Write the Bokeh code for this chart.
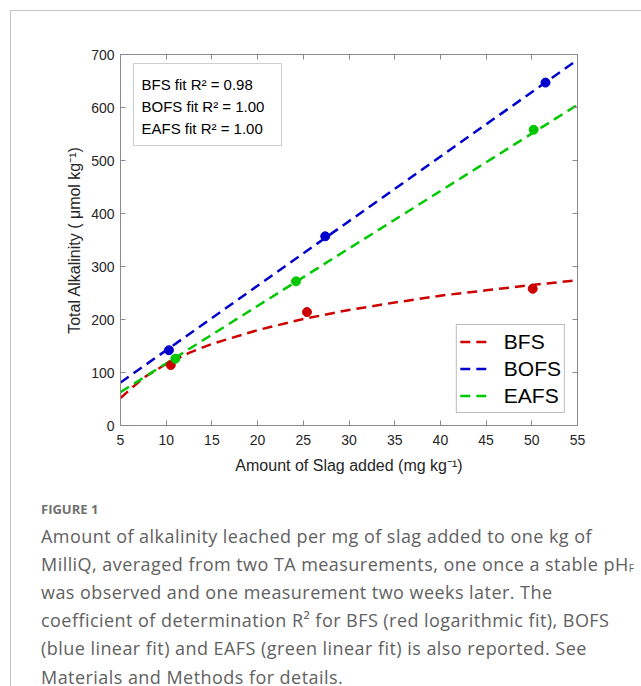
from bokeh.plotting import figure
from bokeh.models import (Range1d, LinearAxis, BoxAnnotation, Label, Legend,
                          LegendItem, FixedTicker, Div)
from bokeh.layouts import column
from bokeh.embed import file_html
from bokeh.resources import INLINE

# ---------------- data ----------------
bfs_x = [10.5, 25.4, 50.1]
bfs_y = [114, 214, 258]
bofs_x = [10.3, 27.4, 51.5]
bofs_y = [142, 357, 647]
eafs_x = [11.0, 24.2, 50.2]
eafs_y = [126, 272, 558]

# fitted curves as drawn (dashed lines)
bfs_fit_x = [5, 7.5, 10, 12.5, 15, 20, 25, 30, 35, 40, 45, 50, 55]
bfs_fit_y = [52, 90, 116, 137, 154, 180, 201, 218, 232, 245, 255, 265, 274]
bofs_fit_x = [5, 55]
bofs_fit_y = [81, 690]
eafs_fit_x = [5, 55]
eafs_fit_y = [63, 605]

x_ticks = [5, 10, 15, 20, 25, 30, 35, 40, 45, 50, 55]
y_ticks = [0, 100, 200, 300, 400, 500, 600, 700]

series_names = ["BFS", "BOFS", "EAFS"]
r2_labels = ["BFS fit R\u00b2 = 0.98", "BOFS fit R\u00b2 = 1.00", "EAFS fit R\u00b2 = 1.00"]

caption_title = "FIGURE 1"
caption_lines = [
    "Amount of alkalinity leached per mg of slag added to one kg of",
    "MilliQ, averaged from two TA measurements, one once a stable pH",
    "was observed and one measurement two weeks later. The",
    "coefficient of determination R\u00b2 for BFS (red logarithmic fit), BOFS",
    "(blue linear fit) and EAFS (green linear fit) is also reported. See",
    "Materials and Methods for details.",
]
caption_sub = {1: "F"}   # subscript appended to line index 1 (pH_F)

RED, BLUE, GREEN = "#cc0000", "#0000cc", "#00c800"

# ---------------- layout geometry ----------------
OX, OY = 11, 11            # page position of the canvas origin
W = 630
H_MAIN = 477
H_CAP = 198
PL, PT, PR, PB = 120, 54, 577, 425   # plot frame in page px
FL, FT = PL - OX, PT - OY
FW, FH = PR - PL, PB - PT
X0, X1, Y0, Y1 = 5, 55, 0, 700


def dx(px):
    return X0 + (px - PL) / FW * (X1 - X0)


def dy(py):
    return Y1 - (py - PT) / FH * (Y1 - Y0)


p = figure(frame_width=FW, frame_height=FH, output_backend="svg",
           toolbar_location=None, x_range=Range1d(X0, X1),
           y_range=Range1d(Y0, Y1), min_border_left=FL, min_border_top=FT,
           min_border_right=W - FL - FW, min_border_bottom=H_MAIN - FT - FH,
           x_axis_location=None, y_axis_location=None)
p.xgrid.visible = False
p.ygrid.visible = False
p.outline_line_color = None
p.background_fill_color = "white"
p.border_fill_color = "white"

AX_COL = "#8a8a8a"
TXT_COL = "#262626"
FONT = "Liberation Sans"


def style_axis(ax, labels=True):
    ax.axis_line_color = AX_COL
    ax.major_tick_line_color = AX_COL
    ax.minor_tick_line_color = None
    ax.major_tick_in = 5
    ax.major_tick_out = 0
    ax.major_label_text_font = FONT
    ax.major_label_text_font_size = "14px"
    ax.major_label_text_color = TXT_COL if labels else None
    ax.major_label_standoff = 9
    ax.axis_label_text_font = FONT
    ax.axis_label_text_font_size = "16px"
    ax.axis_label_text_font_style = "normal"
    ax.axis_label_text_color = TXT_COL


xb = LinearAxis(ticker=FixedTicker(ticks=x_ticks),
                axis_label="Amount of Slag added (mg kg\u207b\u00b9)")
style_axis(xb)
xb.axis_label_standoff = 9
p.add_layout(xb, "below")
yl = LinearAxis(ticker=FixedTicker(ticks=y_ticks),
                axis_label="Total Alkalinity ( \u03bcmol kg\u207b\u00b9)")
style_axis(yl)
yl.major_label_standoff = 6
yl.axis_label_standoff = 5
p.add_layout(yl, "left")
xt = LinearAxis(ticker=FixedTicker(ticks=x_ticks))
style_axis(xt, labels=False)
p.add_layout(xt, "above")
yr = LinearAxis(ticker=FixedTicker(ticks=y_ticks))
style_axis(yr, labels=False)
p.add_layout(yr, "right")

# ---------------- glyphs ----------------
dash = "10 6"
l1 = p.line(bfs_fit_x, bfs_fit_y, color=RED, line_width=2.5, line_dash=dash)
l2 = p.line(bofs_fit_x, bofs_fit_y, color=BLUE, line_width=2.5, line_dash=dash)
l3 = p.line(eafs_fit_x, eafs_fit_y, color=GREEN, line_width=2.5, line_dash=dash)
p.scatter(bfs_x, bfs_y, size=9, color=RED)
p.scatter(bofs_x, bofs_y, size=9, color=BLUE)
p.scatter(eafs_x, eafs_y, size=9, color=GREEN)

legend = Legend(items=[LegendItem(label=n, renderers=[r])
                       for n, r in zip(series_names, [l1, l2, l3])],
                location="bottom_right")
legend.label_text_font = FONT
legend.label_text_font_size = "21px"
legend.label_text_color = "black"
legend.glyph_width = 32
legend.glyph_height = 27
legend.label_height = 27
legend.spacing = 0
legend.padding = 3
legend.margin = 12
legend.label_standoff = 12
legend.border_line_color = "#7a7a7a"
legend.border_line_width = 1
legend.background_fill_alpha = 1
p.add_layout(legend, "center")

# R^2 box
p.add_layout(BoxAnnotation(left=dx(133), right=dx(281), top=dy(63), bottom=dy(145),
                           fill_color="white", fill_alpha=1,
                           line_color="#5a5a5a", line_width=1))
for i, t in enumerate(r2_labels):
    p.add_layout(Label(x=dx(141), y=dy(84 + i * 22), text=t,
                       text_font=FONT, text_font_size="15px",
                       text_color="black", text_baseline="middle"))

# ---------------- caption ----------------
CAP_COL = "#616161"
lines_html = []
for i, t in enumerate(caption_lines):
    if i in caption_sub:
        t += ('<span style="font-size:10px;letter-spacing:0;line-height:0;'
              'position:relative;top:1px;">' + caption_sub[i] + '</span>')
    lines_html.append(t)
cap_html = (
    '<div style="font-family:\'Open Sans\',sans-serif;color:' + CAP_COL + ';'
    'white-space:nowrap;padding-left:' + str(41 - OX) + 'px;margin:0;">'
    '<div style="font-size:13px;font-weight:bold;color:#707070;line-height:16px;'
    'margin-top:12.5px;">' + caption_title + '</div>'
    '<div style="font-size:18px;line-height:28.2px;letter-spacing:0.45px;'
    'margin-top:5px;">'
    + "<br>".join(lines_html) + '</div></div>'
)
cap = Div(text=cap_html, width=W, height=H_CAP, margin=0)

layout = column(p, cap, spacing=0, margin=(OY - 1, 0, 0, OX - 1),
                styles={"border-left": "1px solid #c4c4c4",
                        "border-top": "1px solid #c4c4c4"})

open("out.html", "w").write(file_html(layout, INLINE))
